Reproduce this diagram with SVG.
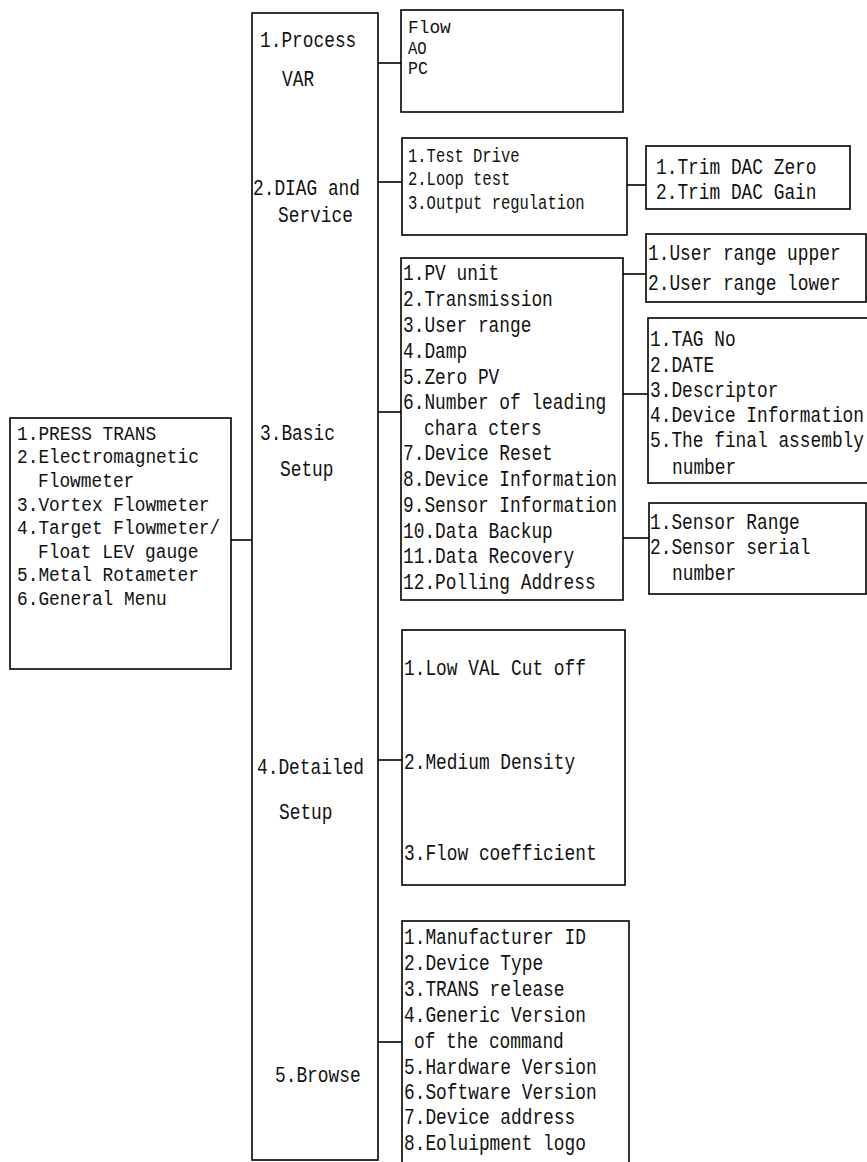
<svg xmlns="http://www.w3.org/2000/svg" width="867" height="1162" viewBox="0 0 867 1162">
<style>
rect{fill:#fff;stroke:#000;stroke-width:1.6}
line{stroke:#000;stroke-width:1.6}
text{font-family:"Liberation Mono","DejaVu Sans Mono",monospace;font-size:19.5px;fill:#111}
</style>
<rect x="0" y="0" width="867" height="1162" style="stroke:none"/>
<g id="connectors">
<line x1="231" y1="540" x2="252" y2="540"/>
<line x1="378" y1="63" x2="401" y2="63"/>
<line x1="378" y1="182" x2="402" y2="182"/>
<line x1="378" y1="412" x2="401" y2="412"/>
<line x1="378" y1="760" x2="402" y2="760"/>
<line x1="378" y1="1042" x2="402" y2="1042"/>
<line x1="627" y1="185" x2="646" y2="185"/>
<line x1="623" y1="274" x2="646" y2="274"/>
<line x1="623" y1="394" x2="648" y2="394"/>
<line x1="623" y1="538" x2="649" y2="538"/>
</g>
<g id="root">
<rect x="10" y="418" width="221" height="251"/>
<text transform="translate(17,439.8) scale(.915,1.05)">1.PRESS TRANS</text>
<text transform="translate(17,463.4) scale(.915,1.05)">2.Electromagnetic</text>
<text transform="translate(38,487) scale(.915,1.05)">Flowmeter</text>
<text transform="translate(17,510.6) scale(.915,1.05)">3.Vortex Flowmeter</text>
<text transform="translate(17,534.2) scale(.915,1.05)">4.Target Flowmeter/</text>
<text transform="translate(38,557.8) scale(.915,1.05)">Float LEV gauge</text>
<text transform="translate(17,581.4) scale(.915,1.05)">5.Metal Rotameter</text>
<text transform="translate(17,605) scale(.915,1.05)">6.General Menu</text>
</g>
<g id="menu">
<rect x="252" y="13" width="126" height="1147"/>
<text transform="translate(260,47.4) scale(.915,1.15)">1.Process</text>
<text transform="translate(282,86.4) scale(.915,1.15)">VAR</text>
<text transform="translate(253,195.4) scale(.915,1.15)">2.DIAG and</text>
<text transform="translate(278,222.4) scale(.915,1.15)">Service</text>
<text transform="translate(260,440.4) scale(.915,1.15)">3.Basic</text>
<text transform="translate(280,476.4) scale(.915,1.15)">Setup</text>
<text transform="translate(257,774.4) scale(.915,1.15)">4.Detailed</text>
<text transform="translate(279,819.4) scale(.915,1.15)">Setup</text>
<text transform="translate(275,1082.4) scale(.915,1.15)">5.Browse</text>
</g>
<g id="process-var">
<rect x="401" y="10" width="222" height="102"/>
<text transform="translate(408,33) scale(.915,.92)">Flow</text>
<text transform="translate(408,54) scale(.8,.92)">AO</text>
<text transform="translate(408,74) scale(.85,.92)">PC</text>
</g>
<g id="diag">
<rect x="402" y="138" width="225" height="97"/>
<text transform="translate(408,161.8) scale(.795,1.05)">1.Test Drive</text>
<text transform="translate(408,185.3) scale(.795,1.05)">2.Loop test</text>
<text transform="translate(408,208.8) scale(.795,1.05)">3.Output regulation</text>
</g>
<g id="trim">
<rect x="646" y="146" width="204" height="63"/>
<text transform="translate(656,174.4) scale(.915,1.15)">1.Trim DAC Zero</text>
<text transform="translate(656,199.4) scale(.915,1.15)">2.Trim DAC Gain</text>
</g>
<g id="basic">
<rect x="401" y="258" width="222" height="342"/>
<text transform="translate(403,280.4) scale(.915,1.15)">1.PV unit</text>
<text transform="translate(403,306.4) scale(.915,1.15)">2.Transmission</text>
<text transform="translate(403,332.4) scale(.915,1.15)">3.User range</text>
<text transform="translate(403,358.4) scale(.915,1.15)">4.Damp</text>
<text transform="translate(403,384.4) scale(.915,1.15)">5.Zero PV</text>
<text transform="translate(403,409.4) scale(.915,1.15)">6.Number of leading</text>
<text transform="translate(424,435.4) scale(.915,1.15)">chara cters</text>
<text transform="translate(403,460.4) scale(.915,1.15)">7.Device Reset</text>
<text transform="translate(403,486.4) scale(.915,1.15)">8.Device Information</text>
<text transform="translate(403,512.4) scale(.915,1.15)">9.Sensor Information</text>
<text transform="translate(403,538.4) scale(.915,1.15)">10.Data Backup</text>
<text transform="translate(403,563.4) scale(.915,1.15)">11.Data Recovery</text>
<text transform="translate(403,589.4) scale(.915,1.15)">12.Polling Address</text>
</g>
<g id="user-range">
<rect x="646" y="234" width="220" height="68"/>
<text transform="translate(648,260.4) scale(.915,1.15)">1.User range upper</text>
<text transform="translate(648,290.4) scale(.915,1.15)">2.User range lower</text>
</g>
<g id="device-info">
<rect x="648" y="318" width="230" height="165"/>
<text transform="translate(650,346.4) scale(.915,1.15)">1.TAG No</text>
<text transform="translate(650,372.4) scale(.915,1.15)">2.DATE</text>
<text transform="translate(650,397.4) scale(.915,1.15)">3.Descriptor</text>
<text transform="translate(650,422.4) scale(.915,1.15)">4.Device Information</text>
<text transform="translate(650,447.4) scale(.915,1.15)">5.The final assembly</text>
<text transform="translate(672,474.4) scale(.915,1.15)">number</text>
</g>
<g id="sensor-info">
<rect x="649" y="503" width="217" height="91"/>
<text transform="translate(650,529.4) scale(.915,1.15)">1.Sensor Range</text>
<text transform="translate(650,554.4) scale(.915,1.15)">2.Sensor serial</text>
<text transform="translate(672,580.4) scale(.915,1.15)">number</text>
</g>
<g id="detailed">
<rect x="402" y="630" width="223" height="255"/>
<text transform="translate(404,675.4) scale(.915,1.15)">1.Low VAL Cut off</text>
<text transform="translate(404,769.4) scale(.915,1.15)">2.Medium Density</text>
<text transform="translate(404,860.4) scale(.915,1.15)">3.Flow coefficient</text>
</g>
<g id="browse">
<rect x="402" y="921" width="227" height="250"/>
<text transform="translate(404,944.4) scale(.915,1.15)">1.Manufacturer ID</text>
<text transform="translate(404,970.4) scale(.915,1.15)">2.Device Type</text>
<text transform="translate(404,996.4) scale(.915,1.15)">3.TRANS release</text>
<text transform="translate(404,1022.4) scale(.915,1.15)">4.Generic Version</text>
<text transform="translate(414,1048.4) scale(.915,1.15)">of the command</text>
<text transform="translate(404,1074.4) scale(.915,1.15)">5.Hardware Version</text>
<text transform="translate(404,1099.4) scale(.915,1.15)">6.Software Version</text>
<text transform="translate(404,1124.4) scale(.915,1.15)">7.Device address</text>
<text transform="translate(404,1150.4) scale(.915,1.15)">8.Eoluipment logo</text>
</g>
</svg>
